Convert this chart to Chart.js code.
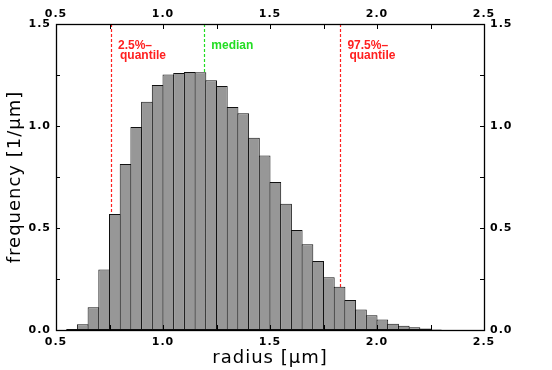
<!DOCTYPE html>
<html>
<head>
<meta charset="utf-8">
<script src="https://cdn.jsdelivr.net/npm/chart.js@4"></script>
<style>
  html, body { margin: 0; padding: 0; background: #fff; }
  #wrap { width: 552px; height: 370px; }
</style>
</head>
<body>
<div id="wrap"><canvas id="histChart" width="552" height="370"></canvas></div>
<script>
// --- dados do histograma (centro de cada classe, largura 0.05) ---
const binCenters = [0.575, 0.625, 0.675, 0.725, 0.775, 0.825, 0.875, 0.925, 0.975, 1.025,
                    1.075, 1.125, 1.175, 1.225, 1.275, 1.325, 1.375, 1.425, 1.475, 1.525,
                    1.575, 1.625, 1.675, 1.725, 1.775, 1.825, 1.875, 1.925, 1.975, 2.025,
                    2.075, 2.125, 2.175, 2.225, 2.275];
const frequency = [0.005, 0.028, 0.111, 0.297, 0.569, 0.814, 0.995, 1.119, 1.201, 1.252,
                   1.260, 1.265, 1.263, 1.224, 1.196, 1.093, 1.062, 0.943, 0.855, 0.725,
                   0.619, 0.490, 0.420, 0.338, 0.258, 0.212, 0.147, 0.101, 0.072, 0.051,
                   0.031, 0.021, 0.013, 0.007, 0.003];

// marcadores verticais (quantis e mediana)
const markerValues = [0.757, 1.193, 1.829];
const markerLabels = [['2.5%–', 'quantile'], ['median'], ['97.5%–', 'quantile']];
const markerColors = ['#ff2020', '#22dd22', '#ff2020'];

const xTickLabels = ['0.5', '1.0', '1.5', '2.0', '2.5'];
const yTickLabels = ['0.0', '0.5', '1.0', '1.5'];

const tickFont = { family: 'DejaVu Sans', size: 11, weight: 'bold' };
const titleFont = { family: 'DejaVu Sans', size: 18 };
const noGrid = { display: false, drawTicks: false, tickLength: 0 };

function majorLabel(list) {
    return function(value) {
        const txt = Number(value).toFixed(1);
        return list.includes(txt) && Math.abs(value * 2 - Math.round(value * 2)) < 1e-6 ? txt : '';
    };
}

// textos dos eixos um pouco espaçados, como na figura original
const spacingPlugin = {
    id: 'spacing',
    beforeDraw(chart) { chart.ctx.letterSpacing = '1px'; },
    beforeDatasetsDraw(chart) { chart.ctx.letterSpacing = '0px'; }
};

// linhas tracejadas desenhadas atrás das barras
const markerPlugin = {
    id: 'markers',
    beforeDatasetsDraw(chart) {
        const { ctx, chartArea } = chart;
        const xs = chart.scales.x;
        ctx.save();
        ctx.lineWidth = 1.2;
        ctx.setLineDash([3, 2]);
        markerValues.forEach((v, i) => {
            const px = Math.round(xs.getPixelForValue(v)) + 0.5;
            ctx.strokeStyle = markerColors[i];
            ctx.beginPath();
            ctx.moveTo(px, chartArea.top);
            ctx.lineTo(px, chartArea.bottom);
            ctx.stroke();
        });
        ctx.setLineDash([]);
        ctx.font = 'bold 12px "Liberation Sans", Arial, sans-serif';
        ctx.textBaseline = 'middle';
        ctx.textAlign = 'left';
        markerLabels.forEach((lines, i) => {
            const px = xs.getPixelForValue(markerValues[i]);
            ctx.fillStyle = markerColors[i];
            lines.forEach((t, j) => {
                ctx.fillText(t, px + 7 + (j > 0 ? 2 : 0), chartArea.top + 22 + j * 10);
            });
        });
        ctx.restore();
    }
};

// moldura e marcas de escala para dentro (estilo IDL)
const framePlugin = {
    id: 'frame',
    afterDraw(chart) {
        const { ctx, chartArea } = chart;
        const { left, right, top, bottom } = chartArea;
        ctx.save();
        ctx.strokeStyle = '#000';
        ctx.lineWidth = 1.3;
        ctx.strokeRect(Math.round(left) + 0.5, Math.round(top) + 0.5,
                       Math.round(right - left), Math.round(bottom - top));
        ctx.lineWidth = 1;
        ctx.beginPath();
        chart.scales.x.ticks.forEach(t => {
            const px = Math.round(chart.scales.x.getPixelForValue(t.value)) + 0.5;
            ctx.moveTo(px, bottom); ctx.lineTo(px, bottom - 5);
            ctx.moveTo(px, top); ctx.lineTo(px, top + 5);
        });
        chart.scales.y.ticks.forEach(t => {
            const py = Math.round(chart.scales.y.getPixelForValue(t.value)) + 0.5;
            ctx.moveTo(left, py); ctx.lineTo(left + 4, py);
            ctx.moveTo(right, py); ctx.lineTo(right - 4, py);
        });
        ctx.stroke();
        ctx.restore();
    }
};

const ctx = document.getElementById('histChart').getContext('2d');
new Chart(ctx, {
    type: 'bar',
    data: {
        datasets: [{
            label: 'frequency',
            data: binCenters.map((c, i) => ({ x: c, y: frequency[i] })),
            backgroundColor: '#979797',
            borderColor: '#111',
            borderWidth: 1,
            borderSkipped: false,
            barPercentage: 1.093,
            categoryPercentage: 1
        }]
    },
    options: {
        responsive: false,
        animation: false,
        layout: { padding: 0 },
        plugins: { legend: { display: false }, tooltip: { enabled: false } },
        scales: {
            x: {
                type: 'linear', position: 'bottom', min: 0.5, max: 2.5, offset: false,
                grid: noGrid, border: { display: false },
                ticks: { stepSize: 0.25, autoSkip: false, maxRotation: 0, padding: 6,
                         color: '#000', font: tickFont, callback: majorLabel(xTickLabels) },
                title: { display: true, text: 'radius [μm]', color: '#000', font: titleFont,
                         padding: { top: 0, bottom: 1 } },
                afterFit(s) { s.height = 40; }
            },
            x2: {
                type: 'linear', position: 'top', min: 0.5, max: 2.5, offset: false,
                grid: noGrid, border: { display: false },
                ticks: { stepSize: 0.25, autoSkip: false, maxRotation: 0, padding: 3,
                         color: '#000', font: tickFont, callback: majorLabel(xTickLabels) },
                afterFit(s) { s.height = 24; }
            },
            y: {
                type: 'linear', position: 'left', min: 0, max: 1.5,
                grid: noGrid, border: { display: false },
                ticks: { stepSize: 0.25, autoSkip: false, padding: 5,
                         color: '#000', font: tickFont, callback: majorLabel(yTickLabels) },
                title: { display: true, text: 'frequency [1/μm]', color: '#000', font: titleFont,
                         padding: { top: 5, bottom: 0 } },
                afterFit(s) { s.width = 56; }
            },
            y2: {
                type: 'linear', position: 'right', min: 0, max: 1.5,
                grid: noGrid, border: { display: false },
                ticks: { stepSize: 0.25, autoSkip: false, padding: 6,
                         color: '#000', font: tickFont, callback: majorLabel(yTickLabels) },
                afterFit(s) { s.width = 68; }
            }
        }
    },
    plugins: [spacingPlugin, markerPlugin, framePlugin]
});
</script>
</body>
</html>
